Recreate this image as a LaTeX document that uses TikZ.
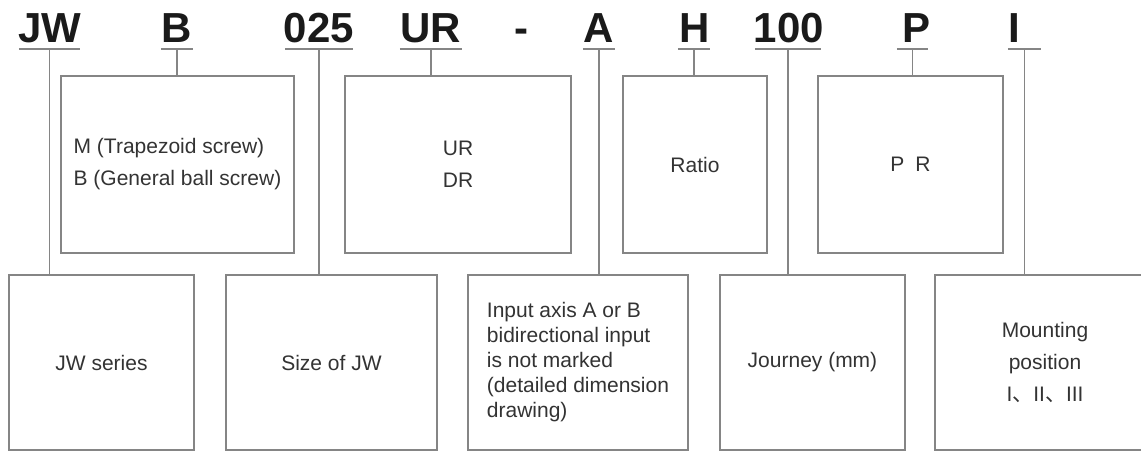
\documentclass[tikz,border=0pt]{standalone}
\usepackage{fontspec}
\setmainfont{Liberation Sans}
\newfontfamily\cjkfont{Noto Sans CJK SC}
\usepackage{tikz}
\usetikzlibrary{positioning}
\definecolor{CodeBlack}{HTML}{1A1A1A}
\definecolor{LineGray}{HTML}{858585}
\definecolor{TextGray}{HTML}{333333}
\tikzstyle{code} = [font=\fontsize{42}{42}\selectfont\bfseries,text=CodeBlack,anchor=base,inner sep=0pt]
\tikzstyle{uline} = [inner sep=0pt,minimum height=0pt]
\tikzstyle{box} = [draw=LineGray,line width=1.3pt,rectangle,inner sep=0pt,text=TextGray,font=\fontsize{21}{25}\selectfont]
\tikzstyle{upperbox} = [box,minimum height=177pt]
\tikzstyle{lowerbox} = [box,minimum height=175pt]
\tikzstyle{link} = [draw=LineGray,line width=1.3pt]

\begin{document}
\begin{tikzpicture}[x=1pt,y=-1pt]
			\fill[white] (0,0) rectangle (1141,452);
			\useasboundingbox (0,0) rectangle (1141,452);
			
			% model code
			\node[code] (cJW) at (50,43) {JW};
			\node[code] (cB) at (177,43) {B};
			\node[code] (c025) at (319,43) {025};
			\node[code] (cUR) at (431,43) {UR};
			\node[code] (cDash) at (521,43) {-};
			\node[code] (cA) at (599,43) {A};
			\node[code] (cH) at (695,43) {H};
			\node[code] (c100) at (789,43) {100};
			\node[code] (cP) at (916,43) {P};
			\node[code] (cI) at (1014,43) {I};
			
			\node[uline,minimum width=61pt] (uJW) at (49.5,49) {};
			\node[uline,minimum width=32pt] (uB) at (177,49) {};
			\node[uline,minimum width=67pt] (u025) at (319,49) {};
			\node[uline,minimum width=62pt] (uUR) at (431,49) {};
			\node[uline,minimum width=32pt] (uA) at (599,49) {};
			\node[uline,minimum width=32pt] (uH) at (694,49) {};
			\node[uline,minimum width=66pt] (u100) at (788,49) {};
			\node[uline,minimum width=31pt] (uP) at (912.5,49) {};
			\node[uline,minimum width=33pt] (uI) at (1024.5,49) {};
			
			% upper row
			\node[upperbox,minimum width=233pt,align=left,font=\fontsize{21}{32}\selectfont] (bB) at (177.5,164.5) {M (Trapezoid screw)\\B (General ball screw)};
			\node[upperbox,minimum width=226pt,align=left,font=\fontsize{21}{32}\selectfont] (bUR) at (458,164.5) {UR\\DR};
			\node[upperbox,minimum width=144pt] (bRatio) at (695,164.5) {Ratio};
			\node[upperbox,minimum width=185pt] (bPR) at (910.5,164.5) {P\hspace{11pt}R};
			
			% lower row
			\node[lowerbox,minimum width=185pt] (lJW) at (101.5,362.5) {JW series};
			\node[lowerbox,minimum width=211pt] (lSize) at (331.5,362.5) {Size of JW};
			\node[lowerbox,minimum width=220pt,align=left] (lInput) at (578,362.5) {Input axis A or B\\bidirectional input\\is not marked\\(detailed dimension\\drawing)};
			\node[lowerbox,minimum width=185pt] (lJourney) at (812.5,362.5) {Journey (mm)};
			\node[lowerbox,minimum width=220pt,align=center,font=\fontsize{21}{32}\selectfont] (lMount) at (1045,362.5) {Mounting\\position\\I{\cjkfont 、}II{\cjkfont 、}III};
			
			\draw[link] (uJW.west) -- (uJW.east);
			\draw[link] (uB.west) -- (uB.east);
			\draw[link] (u025.west) -- (u025.east);
			\draw[link] (uUR.west) -- (uUR.east);
			\draw[link] (uA.west) -- (uA.east);
			\draw[link] (uH.west) -- (uH.east);
			\draw[link] (u100.west) -- (u100.east);
			\draw[link] (uP.west) -- (uP.east);
			\draw[link] (uI.west) -- (uI.east);
			
			\draw[link] (uJW) -- (uJW |- lJW.north);
			\draw[link] (uB) -- (uB |- bB.north);
			\draw[link] (u025) -- (u025 |- lSize.north);
			\draw[link] (uUR) -- (uUR |- bUR.north);
			\draw[link] (uA) -- (uA |- lInput.north);
			\draw[link] (uH) -- (uH |- bRatio.north);
			\draw[link] (u100) -- (u100 |- lJourney.north);
			\draw[link] (uP) -- (uP |- bPR.north);
			\draw[link] (uI) -- (uI |- lMount.north);
\end{tikzpicture}
\end{document}
